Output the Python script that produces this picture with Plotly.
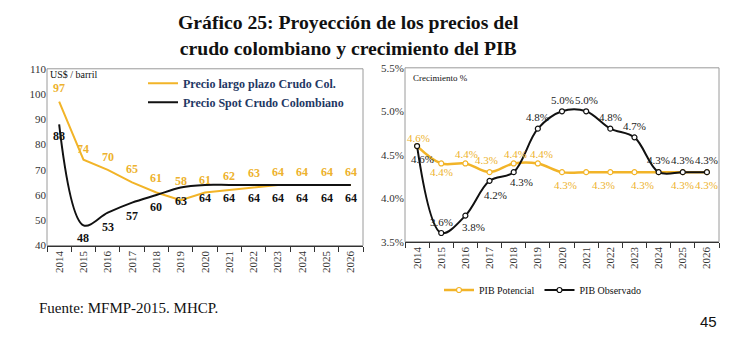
import plotly.graph_objects as go

# ---------------- data ----------------
years = [str(y) for y in range(2014, 2027)]
precio_largo_plazo = [97, 74, 70, 65, 61, 58, 61, 62, 63, 64, 64, 64, 64]
precio_spot = [88, 48, 53, 57, 60, 63, 64, 64, 64, 64, 64, 64, 64]
pib_potencial = [4.6, 4.4, 4.4, 4.3, 4.4, 4.4, 4.3, 4.3, 4.3, 4.3, 4.3, 4.3, 4.3]
pib_observado = [4.6, 3.6, 3.8, 4.2, 4.3, 4.8, 5.0, 5.0, 4.8, 4.7, 4.3, 4.3, 4.3]

# ---------------- styles ----------------
W, H = 738, 352
GOLD = "#F2B428"
GOLD_TXT = "#EDB22E"
NAVY = "#1F3864"
SERIF = "Liberation Serif"
AXC = "#9A9A9A"
XAXC = "#333333"

def px(x):
    return x / W

def py(y):
    return 1 - y / H

# label offsets (pixels)
lp_dy = [14, 11, 13, 13, 15, 19, 13, 14, 14, 13, 13, 13, 13]
sp_dy = [-12, -13, -14, -13, -12, -14, -13, -13, -13, -13, -13, -13, -13]
obs_dx = [5, 0, 8, 6, 8, 0, 0, 0, 0, 0, 0, 0, 0]
obs_dy = [-13, 11, -11, -14, -10, 12, 11, 11, 12, 11, 12, 12, 12]
pot_dx = [1, 0, 1, -3, 2, 4, 3, 0, -7, 8, 0, 0, 0]
pot_dy = [8, -9, 9, 12, 9, 9, -13, 0, -13, -13, 0, -13, -13]
pot_show = [1, 1, 1, 1, 1, 1, 1, 0, 1, 1, 0, 1, 1]

fig = go.Figure()

# ---------------- left chart ----------------
fig.add_trace(go.Scatter(
    x=years, y=precio_largo_plazo, mode="lines", name="<b>Precio largo plazo Crudo Col.</b>",
    line=dict(color=GOLD, width=2),
    xaxis="x", yaxis="y", legend="legend",
))
fig.add_trace(go.Scatter(
    x=years, y=precio_spot, mode="lines", name="<b>Precio Spot Crudo Colombiano</b>",
    line=dict(color="#111111", width=2, shape="spline", smoothing=1.0),
    xaxis="x", yaxis="y", legend="legend",
))

# ---------------- right chart ----------------
fig.add_trace(go.Scatter(
    x=years, y=pib_potencial, mode="lines+markers", name="PIB Potencial",
    line=dict(color=GOLD, width=2.5, shape="spline", smoothing=1.0),
    marker=dict(symbol="circle", size=5, color="white", line=dict(color=GOLD, width=1.2)),
    xaxis="x2", yaxis="y2", legend="legend2",
))
fig.add_trace(go.Scatter(
    x=years, y=pib_observado, mode="lines+markers", name="PIB Observado",
    line=dict(color="#111111", width=2, shape="spline", smoothing=1.0),
    marker=dict(symbol="circle", size=5, color="white", line=dict(color="#111111", width=1.2)),
    xaxis="x2", yaxis="y2", legend="legend2",
))

annotations = []
for i, yr in enumerate(years):
    annotations.append(dict(
        x=i, y=precio_largo_plazo[i], xref="x", yref="y", text=f"<b>{precio_largo_plazo[i]}</b>",
        showarrow=False, yshift=lp_dy[i], xanchor="center", yanchor="middle",
        font=dict(family=SERIF, size=12, color=GOLD_TXT),
    ))
    annotations.append(dict(
        x=i, y=precio_spot[i], xref="x", yref="y", text=f"<b>{precio_spot[i]}</b>",
        showarrow=False, yshift=sp_dy[i], xanchor="center", yanchor="middle",
        font=dict(family=SERIF, size=12, color="#111111"),
    ))
    annotations.append(dict(
        x=i, y=pib_observado[i], xref="x2", yref="y2", text=f"{pib_observado[i]:.1f}%",
        showarrow=False, xshift=obs_dx[i], yshift=obs_dy[i], xanchor="center", yanchor="middle",
        font=dict(family=SERIF, size=11, color="#1a1a1a"),
    ))
    if pot_show[i]:
        annotations.append(dict(
            x=i, y=pib_potencial[i], xref="x2", yref="y2", text=f"{pib_potencial[i]:.1f}%",
            showarrow=False, xshift=pot_dx[i], yshift=pot_dy[i], xanchor="center", yanchor="middle",
            font=dict(family=SERIF, size=11, color=GOLD_TXT),
        ))

# titles and notes
annotations += [
    dict(x=px(348), y=py(30), xref="paper", yref="paper", showarrow=False,
         xanchor="center", yanchor="middle",
         text="<b>Gráfico 25: Proyección de los precios del<br>crudo colombiano y crecimiento del PIB</b>",
         font=dict(family=SERIF, size=19.7, color="#111111"), align="center"),
    dict(x=px(48), y=py(71), xref="paper", yref="paper", showarrow=False, xanchor="left",
         yanchor="middle", text="US$ / barril", font=dict(family=SERIF, size=10, color="#111111")),
    dict(x=px(411), y=py(75), xref="paper", yref="paper", showarrow=False, xanchor="left",
         yanchor="middle", text="Crecimiento %", font=dict(family=SERIF, size=9, color="#111111")),
    dict(x=px(37), y=py(313), xref="paper", yref="paper", showarrow=False, xanchor="left",
         yanchor="middle", text="Fuente: MFMP-2015. MHCP.",
         font=dict(family=SERIF, size=15, color="#111111")),
    dict(x=px(719), y=py(327), xref="paper", yref="paper", showarrow=False, xanchor="right",
         yanchor="middle", text="45", font=dict(family="Liberation Sans", size=15, color="#111111")),
]

# plot-area frames (grey), x axis line drawn darker on top
shapes = [
    dict(type="rect", xref="x domain", yref="y domain", x0=0, x1=1, y0=0, y1=1,
         line=dict(color=AXC, width=1), layer="below"),
    dict(type="rect", xref="x2 domain", yref="y2 domain", x0=0, x1=1, y0=0, y1=1,
         line=dict(color=AXC, width=1), layer="below"),
]

tickf = dict(family=SERIF, size=11, color="#333333")

fig.update_layout(
    width=W, height=H, margin=dict(l=0, r=0, t=0, b=0),
    paper_bgcolor="white", plot_bgcolor="white",
    xaxis=dict(domain=[px(47), px(363)], anchor="y", type="category", tickangle=-90,
               ticks="outside", tickson="boundaries", ticklen=5, tickcolor=XAXC,
               showline=True, linecolor=XAXC, linewidth=1, showgrid=False, zeroline=False,
               range=[-0.5, 12.5], tickfont=tickf),
    yaxis=dict(domain=[py(248), py(65)], anchor="x", range=[40, 110], dtick=10, ticks="",
               showline=False, showgrid=False, zeroline=False, tickfont=tickf),
    xaxis2=dict(domain=[px(405), px(719)], anchor="y2", type="category", tickangle=-90,
                ticks="outside", tickson="boundaries", ticklen=5, tickcolor=XAXC,
                showline=True, linecolor=XAXC, linewidth=1, showgrid=False, zeroline=False,
                range=[-0.5, 12.5], tickfont=tickf),
    yaxis2=dict(domain=[py(244), py(64)], anchor="x2", range=[3.5, 5.5], dtick=0.5,
                tickformat=".1f", ticksuffix="%", ticks="", showline=False, showgrid=False,
                zeroline=False, tickfont=tickf),
    legend=dict(x=px(143), y=py(65), xanchor="left", yanchor="top", bgcolor="rgba(0,0,0,0)",
                font=dict(family=SERIF, size=12, color=NAVY), itemwidth=30, tracegroupgap=0),
    legend2=dict(x=px(439), y=py(279), xanchor="left", yanchor="top", orientation="h",
                 bgcolor="rgba(0,0,0,0)", font=dict(family=SERIF, size=10, color="#111111"),
                 itemwidth=30),
    annotations=annotations,
    shapes=shapes,
    showlegend=True,
)

fig.write_html("out.html")
